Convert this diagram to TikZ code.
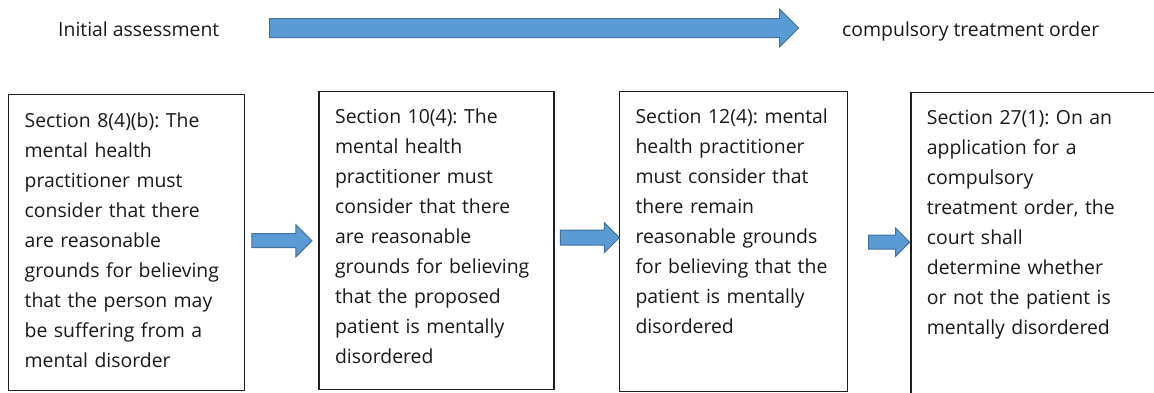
\documentclass[tikz,border=0pt]{standalone}
\usepackage{fontspec}
\setmainfont{Open Sans}
\frenchspacing
\usetikzlibrary{positioning}
\usetikzlibrary{shapes.arrows}

\definecolor{arrowblue}{HTML}{5B9BD5}
\definecolor{arrowline}{HTML}{41719C}
\definecolor{boxline}{HTML}{1F1F1F}

\begin{document}
\begin{tikzpicture}[x=1pt, y=-1pt,
  common/.style={draw=boxline, line width=1.4pt, inner xsep=16pt, inner ysep=0pt, align=left, text height=32pt, font=\fontsize{19.4}{30}\selectfont, text=black!90},
  flow/.style={single arrow, draw=arrowline, fill=arrowblue, line width=1pt, inner sep=0pt, text depth=0pt, single arrow head extend=9pt}]
\tikzstyle{texto}=[font=\fontsize{19.4}{23}\selectfont, inner sep=0pt, anchor=base west, text=black!90]

\useasboundingbox (0,0) rectangle (1154,392);

% top line
\node (init) [texto] at (58, 36) {Initial assessment};
\node (order) [texto] at (842, 36) {compulsory treatment order};
\node (path) [flow, anchor=tail, minimum height=529pt, text height=18pt, single arrow head extend=9.5pt] at (269, 28) {};

% boxes
\node (S1) [common, anchor=north west, text width=204pt, text height=33pt, text depth=263pt] at (8, 94)
  {Section 8(4)(b): The\\ mental health\\ practitioner must\\ consider that there\\ are reasonable\\ grounds for believing\\ that the person may\\ be suffering from a\\ mental disorder};
\node (S2) [common, text width=203pt, text depth=266pt, right=73pt of S1.north east, anchor=north west, yshift=3pt]
  {Section 10(4): The\\ mental health\\ practitioner must\\ consider that there\\ are reasonable\\ grounds for believing\\ that the proposed\\ patient is mentally\\ disordered};
\node (S3) [common, text width=196pt, text depth=268pt, right=64pt of S2.north east, anchor=north west]
  {Section 12(4): mental\\ health practitioner\\ must consider that\\ there remain\\ reasonable grounds\\ for believing that the\\ patient is mentally\\ disordered};
\node (S4) [common, text width=230pt, text depth=300pt, right=62pt of S3.north east, anchor=north west, yshift=-1pt]
  {Section 27(1): On an\\ application for a\\ compulsory\\ treatment order, the\\ court shall\\ determine whether\\ or not the patient is\\ mentally disordered};

% arrows between boxes
\node (A1) [flow, minimum height=60pt, text height=13pt, right=6pt of S1, yshift=2pt] {};
\node (A2) [flow, minimum height=59pt, text height=14pt, single arrow head extend=7.5pt, right=5pt of S2, yshift=3pt] {};
\node (A3) [flow, minimum height=41pt, text height=13pt, single arrow head extend=7pt, right=20pt of S3, yshift=-0.5pt] {};
\end{tikzpicture}
\end{document}
